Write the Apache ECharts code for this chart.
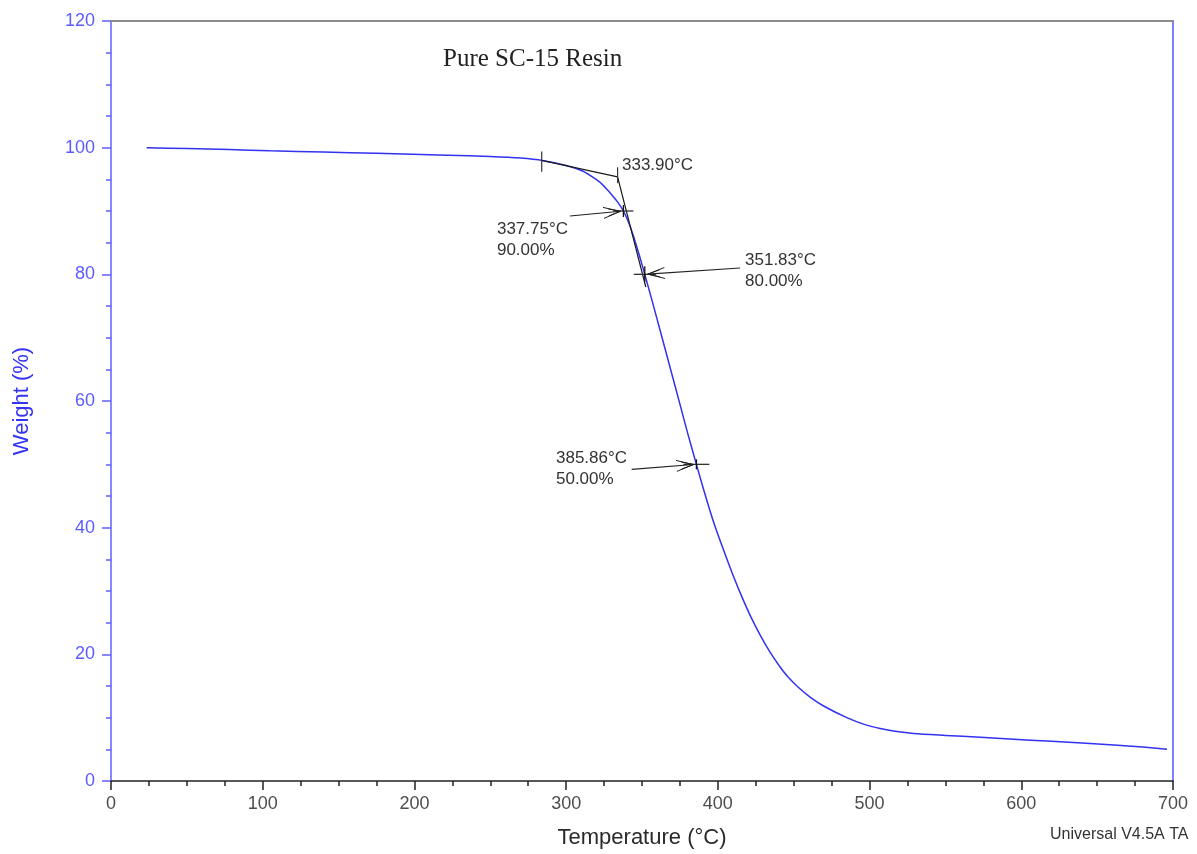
<!DOCTYPE html>
<html>
<head>
<meta charset="utf-8">
<title>Pure SC-15 Resin TGA</title>
<script src="https://cdn.jsdelivr.net/npm/echarts@6/dist/echarts.min.js"></script>
<style>
  html, body { margin: 0; padding: 0; background: #fff; }
  #main { width: 1197px; height: 854px; }
</style>
</head>
<body>
<div id="main"></div>
<script>
// TGA curve
var tempData = [23.5, 50, 78, 105, 140, 175, 222, 250, 270, 285, 300, 310, 316, 322, 327, 331, 334, 337.75,
  341, 344, 348, 351.83, 356, 362, 368.5, 375, 380, 385.86, 391, 397, 404, 410, 416, 422, 428, 434, 441,
  446, 453, 461, 470, 485, 497, 507, 518, 529, 550, 573, 595, 617, 640, 661, 680, 696];
var weightData = [100.0, 99.85, 99.7, 99.5, 99.3, 99.1, 98.8, 98.6, 98.35, 97.95, 97.2, 96.4, 95.6, 94.6, 93.4, 92.3, 91.4, 90.0,
  88.3, 86.3, 83.2, 80.0, 76.4, 71.1, 65.3, 59.5, 55.0, 50.0, 45.7, 41.0, 36.3, 32.5, 29.0, 25.8, 23.0, 20.5, 18.0,
  16.5, 14.8, 13.2, 11.8, 10.0, 8.9, 8.3, 7.8, 7.5, 7.2, 6.9, 6.6, 6.3, 6.0, 5.7, 5.35, 5.0];

// onset construction
var baseTangent = [[283.9, 98.0], [333.9, 95.4]];
var steepTangent = [[333.9, 95.4], [352.5, 78.0]];
var onsetMarks = [[283.9, 96.2, 99.4], [333.9, 94.4, 96.9]]; // temp, low, high
var onsetLabel = { pos: [336.8, 98.5], text: '333.90°C' };

// marked points with arrows
var markPoints = [[337.75, 90], [351.83, 80], [385.86, 50]];
var markTails = [[302.5, 89.2], [414.6, 81.0], [343.2, 49.2]];
var markLabelPos = [[254.4, 88.7], [417.9, 83.8], [293.3, 52.6]];
var markLabels = ['337.75°C\n90.00%', '351.83°C\n80.00%', '385.86°C\n50.00%'];

var xTicks = { min: 0, max: 700, interval: 100 };
var yTicks = { min: 0, max: 120, interval: 20 };

var curve = tempData.map(function (t, i) { return [t, weightData[i]]; });

var chart = echarts.init(document.getElementById('main'));

function seg(p1, p2, color, w) {
  return {
    type: 'line',
    shape: { x1: p1[0], y1: p1[1], x2: p2[0], y2: p2[1] },
    style: { stroke: color || '#1a1a1a', lineWidth: w || 1 }
  };
}

var labelFont = '17px "Liberation Sans", Arial, sans-serif';

var option = {
  animation: false,
  title: {
    text: 'Pure SC-15 Resin',
    left: 438,
    top: 42,
    textStyle: { fontFamily: '"Liberation Serif", "Times New Roman", serif', fontWeight: 'normal', fontSize: 25, color: '#222' }
  },
  graphic: [{
    type: 'text',
    left: 1050,
    top: 827,
    style: { text: 'Universal V4.5A TA', fill: '#333', font: '16px "Liberation Sans", Arial, sans-serif' }
  }],
  grid: { left: 111, right: 24, top: 21, bottom: 73 },
  xAxis: [{
    type: 'value',
    min: xTicks.min, max: xTicks.max, interval: xTicks.interval,
    name: 'Temperature (°C)',
    nameLocation: 'middle',
    nameGap: 46,
    nameTextStyle: { fontFamily: '"Liberation Sans", Arial, sans-serif', fontSize: 22, color: '#2a2a2a', verticalAlign: 'top' },
    axisLine: { show: true, onZero: false, lineStyle: { color: '#222', width: 1.5 } },
    axisTick: { show: true, length: 9, lineStyle: { color: '#222', width: 1.5 } },
    minorTick: { show: true, splitNumber: 4, length: 5, lineStyle: { color: '#222', width: 1.5 } },
    axisLabel: { margin: 14, fontFamily: '"Liberation Sans", Arial, sans-serif', fontSize: 18, color: '#4d4d4d' },
    splitLine: { show: false }
  }, {
    type: 'value', position: 'top',
    min: xTicks.min, max: xTicks.max,
    axisLine: { show: true, onZero: false, lineStyle: { color: '#8c8c8c', width: 2 } },
    axisTick: { show: false }, axisLabel: { show: false }, splitLine: { show: false }
  }],
  yAxis: [{
    type: 'value',
    min: yTicks.min, max: yTicks.max, interval: yTicks.interval,
    name: 'Weight (%)',
    nameLocation: 'middle',
    nameGap: 78,
    nameTextStyle: { fontFamily: '"Liberation Sans", Arial, sans-serif', fontSize: 22, color: '#3434f5' },
    axisLine: { show: true, onZero: false, lineStyle: { color: '#5f5fff', width: 1.5 } },
    axisTick: { show: true, length: 9, lineStyle: { color: '#5f5fff', width: 1.5 } },
    minorTick: { show: true, splitNumber: 4, length: 5, lineStyle: { color: '#5f5fff', width: 1.5 } },
    axisLabel: { margin: 16, fontFamily: '"Liberation Sans", Arial, sans-serif', fontSize: 18, color: '#5b5bff' },
    splitLine: { show: false }
  }, {
    type: 'value', position: 'right',
    min: yTicks.min, max: yTicks.max,
    axisLine: { show: true, onZero: false, lineStyle: { color: '#8080ff', width: 2 } },
    axisTick: { show: false }, axisLabel: { show: false }, splitLine: { show: false }
  }],
  series: [
    {
      name: 'Weight',
      type: 'line',
      data: curve,
      smooth: 0.25,
      showSymbol: false,
      silent: true,
      lineStyle: { color: '#3232f2', width: 1.5 },
      z: 3
    },
    {
      type: 'line', data: baseTangent, showSymbol: false, silent: true,
      lineStyle: { color: '#1a1a1a', width: 1.2 }, z: 4
    },
    {
      type: 'line', data: steepTangent, showSymbol: false, silent: true,
      lineStyle: { color: '#1a1a1a', width: 1.2 }, z: 4
    },
    {
      // vertical onset marks + onset label
      type: 'custom',
      silent: true,
      clip: false,
      z: 5,
      data: onsetMarks.map(function (m) { return [m[0], m[2]]; }),
      renderItem: function (params, api) {
        var m = onsetMarks[params.dataIndex];
        var lo = api.coord([m[0], m[1]]);
        var hi = api.coord([m[0], m[2]]);
        var children = [seg(lo, hi, '#333', 1.2)];
        if (params.dataIndex === 1) {
          var lp = api.coord(onsetLabel.pos);
          children.push({
            type: 'text', x: lp[0], y: lp[1],
            style: { text: onsetLabel.text, fill: '#333', font: labelFont, verticalAlign: 'top' }
          });
        }
        return { type: 'group', children: children };
      }
    },
    {
      // crosses, arrows and labels
      type: 'custom',
      silent: true,
      clip: false,
      z: 5,
      data: markPoints,
      renderItem: function (params, api) {
        var i = params.dataIndex;
        var p = api.coord(markPoints[i]);
        var t = api.coord(markTails[i]);
        var lp = api.coord(markLabelPos[i]);
        var hw = [10, 11, 13][i], hh = [6, 8, 5][i];
        var dx = p[0] - t[0], dy = p[1] - t[1];
        var len = Math.sqrt(dx * dx + dy * dy);
        var ux = dx / len, uy = dy / len;
        var tip = [p[0] - ux * 3, p[1] - uy * 3];
        var children = [
          seg([p[0] - hw, p[1]], [p[0] + hw, p[1]], '#333', 1.3),
          seg([p[0], p[1] - hh], [p[0], p[1] + hh], '#111', 1.3),
          seg(t, tip, '#222', 1.1)
        ];
        [17, 12].forEach(function (L, k) {
          var bx = tip[0] - ux * L, by = tip[1] - uy * L;
          var w = k === 0 ? 5.5 : 3.5;
          children.push(seg(tip, [bx - uy * w, by + ux * w], '#222', 1));
          children.push(seg(tip, [bx + uy * w, by - ux * w], '#222', 1));
        });
        children.push({
          type: 'text', x: lp[0], y: lp[1],
          style: { text: markLabels[i], fill: '#333', font: labelFont, lineHeight: 21, verticalAlign: 'top' }
        });
        return { type: 'group', children: children };
      }
    }
  ]
};

chart.setOption(option);
</script>
</body>
</html>
